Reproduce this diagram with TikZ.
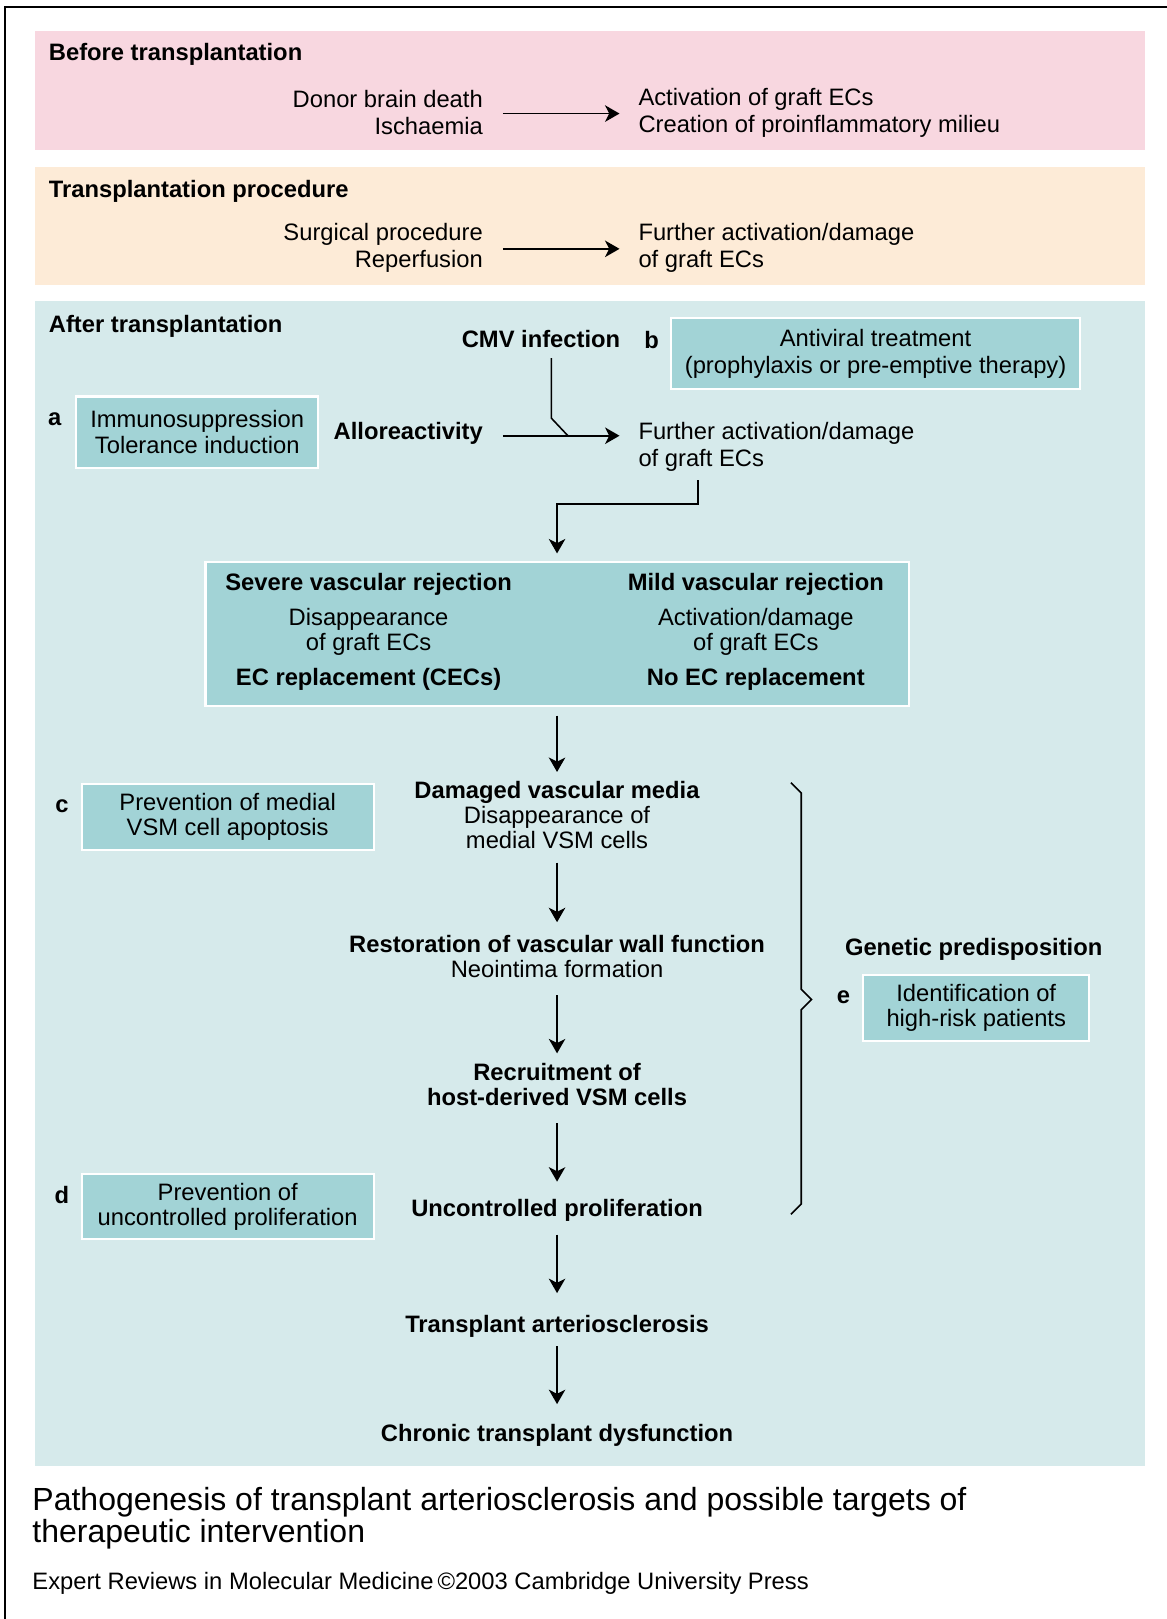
\documentclass[tikz,border=0pt]{standalone}
\usepackage{fontspec}
\setmainfont{Liberation Sans}
\usetikzlibrary{arrows.meta}
\definecolor{pinkbg}{HTML}{F8D7E0}
\definecolor{peachbg}{HTML}{FDEBD7}
\definecolor{tealbg}{HTML}{D6EAEB}
\definecolor{tealbox}{HTML}{A2D3D6}

\begin{document}
\begin{tikzpicture}[x=0.5pt,y=-0.5pt,
	every node/.style={inner sep=0pt,font=\fontsize{11.5}{12}\selectfont},
	toptext/.style={font=\fontsize{11.5}{13}\selectfont},
	bodytext/.style={align=center},
	headtext/.style={font=\fontsize{11.5}{12}\selectfont\bfseries,align=center},
	sectitle/.style={anchor=west,font=\fontsize{11.5}{13}\selectfont\bfseries},
	letterlabel/.style={font=\fontsize{11.5}{12}\selectfont\bfseries},
	targetbox/.style={draw=white,line width=1pt,fill=tealbox,align=center},
	plainline/.style={line width=0.75pt},
	arrowline/.style={line width=0.75pt,-{Stealth[length=7pt,width=8pt,inset=2pt]}},
	across/.style={shorten <=9.5pt,shorten >=9pt}]
	\useasboundingbox (0,0) rectangle (1130,1568);
	\fill [pinkbg] (34,30) rectangle (1109,145);
	\fill [peachbg] (34,162) rectangle (1109,276);
	\fill [tealbg] (34,292) rectangle (1109,1420);
	\draw [line width=1pt] (1130,7) -- (5,7) -- (5,1568);

	\node [sectitle] (before) at (47,53) {Before transplantation};
	\node [toptext,anchor=east,align=right] (donor) at (468,109) {Donor brain death\\Ischaemia};
	\node [toptext,anchor=west,align=left] (activ) at (618,109) {Activation of graft ECs\\Creation of proinflammatory milieu};
	\draw [arrowline,across] ([yshift=-0.5pt]donor.east) -- ([yshift=-0.5pt]donor.east -| activ.west);

	\node [sectitle] (proc) at (47,185) {Transplantation procedure};
	\node [toptext,anchor=east,align=right] (surgical) at (468,240) {Surgical procedure\\Reperfusion};
	\node [toptext,anchor=west,align=left] (further1) at (618,240) {Further activation/damage\\of graft ECs};
	\draw [arrowline,across] ([yshift=-0.5pt]surgical.east) -- ([yshift=-0.5pt]surgical.east -| further1.west);

	\node [sectitle] (after) at (47,316) {After transplantation};
	\node [headtext,anchor=east] (cmv) at (601,328) {CMV infection};
	\node [letterlabel] (tagb) at (631,329) {b};
	\node [targetbox,toptext,minimum width=198pt,minimum height=34.5pt] (antiviral) at (848,342.5) {Antiviral treatment\\(prophylaxis or pre-emptive therapy)};
	\node [letterlabel] (taga) at (53,406) {a};
	\node [targetbox,font=\fontsize{11.5}{12.5}\selectfont,minimum width=117pt,minimum height=34.5pt] (immuno) at (191,418.5) {Immunosuppression\\Tolerance induction};
	\node [headtext,anchor=east] (allo) at (468,420) {Alloreactivity};
	\node [toptext,anchor=west,align=left] (further2) at (618,433) {Further activation/damage\\of graft ECs};
	\coordinate (cmvbend) at (534,405);
	\coordinate (cmvjoin) at (550,422);
	\draw [arrowline,across] ([yshift=-1pt]allo.east) -- ([yshift=-1pt]allo.east -| further2.west);
	\draw [plainline] (cmvbend |- cmv.south) ++(0,10) -- (cmvbend) -- (cmvjoin);

	\node [targetbox,minimum width=340.5pt,minimum height=70pt] (rejbox) at (539.5,614) {};
	\node [bodytext] (severe) at (357,612) {\textbf{Severe vascular rejection}\\[5pt]Disappearance\\of graft ECs\\[5pt]\textbf{EC replacement (CECs)}};
	\node [bodytext] (mild) at (732,612) {\textbf{Mild vascular rejection}\\[5pt]Activation/damage\\of graft ECs\\[5pt]\textbf{No EC replacement}};
	\draw [arrowline,shorten >=3.5pt] ([xshift=29pt,yshift=-4pt]further2.south west) -- ++(0,23) -| (rejbox.north);

	\node [bodytext] (damaged) at (539.5,789.5) {\textbf{Damaged vascular media}\\Disappearance of\\medial VSM cells};
	\node [bodytext] (restore) at (539.5,926) {\textbf{Restoration of vascular wall function}\\Neointima formation};
	\node [headtext] (recruit) at (539.5,1050) {Recruitment of\\host-derived VSM cells};
	\node [headtext] (uncontr) at (539.5,1172.5) {Uncontrolled proliferation};
	\node [headtext] (transart) at (539.5,1284.5) {Transplant arteriosclerosis};
	\node [headtext] (chronic) at (539.5,1390) {Chronic transplant dysfunction};
	\draw [arrowline,shorten <=4pt,shorten >=4.5pt] (rejbox) -- (damaged);
	\draw [arrowline,shorten <=6.5pt,shorten >=6pt] (damaged) -- (restore);
	\draw [arrowline,shorten <=8.5pt,shorten >=4.5pt] (restore) -- (recruit);
	\draw [arrowline,shorten <=8.5pt,shorten >=8.5pt] (recruit) -- (uncontr);
	\draw [arrowline,shorten <=6pt,shorten >=10.5pt] (uncontr) -- (transart);
	\draw [arrowline,shorten <=4pt,shorten >=9.5pt] (transart) -- (chronic);

	\node [letterlabel] (tagc) at (60,781) {c};
	\node [targetbox,minimum width=141.5pt,minimum height=32pt] (medial) at (220.5,791) {Prevention of medial\\VSM cell apoptosis};
	\node [letterlabel] (tagd) at (60,1157) {d};
	\node [targetbox,minimum width=141.5pt,minimum height=31.5pt] (prolif) at (220.5,1168.5) {Prevention of\\uncontrolled proliferation};

	\draw [plainline] (766,758) -- (776,768) -- (776,958) -- (786,968) -- (776,978) -- (776,1166) -- (766,1176);
	\node [headtext] (genetic) at (943,919) {Genetic predisposition};
	\node [letterlabel] (tage) at (817,966) {e};
	\node [targetbox,minimum width=109.5pt,minimum height=32pt] (highrisk) at (945.5,976) {Identification of\\high-risk patients};

	\node [anchor=west,align=left,font=\fontsize{15.5}{15.5}\selectfont] (caption) at (31,1470.5) {Pathogenesis of transplant arteriosclerosis and possible targets of\\therapeutic intervention};
	\node [anchor=west] (credit) at (31,1533) {Expert Reviews in Molecular Medicine\,©2003 Cambridge University Press};
\end{tikzpicture}
\end{document}
